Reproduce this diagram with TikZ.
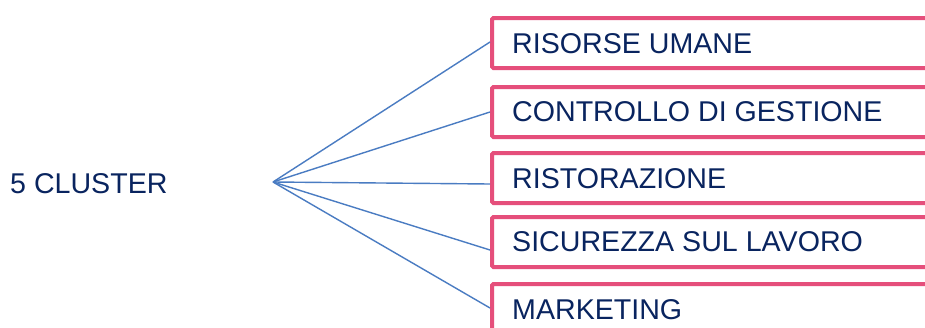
\documentclass[tikz,border=0pt]{standalone}
\usepackage{fontspec}
\setmainfont{Liberation Sans}
\definecolor{pinkb}{HTML}{E54F7B}
\definecolor{navy}{HTML}{09245F}
\definecolor{linkblue}{HTML}{4A7CC2}
\begin{document}
\begin{tikzpicture}[x=1pt,y=-1pt,
  box/.style={draw=pinkb,line width=4pt,rounded corners=1.5pt,rectangle,anchor=north west,
    minimum width=470pt,minimum height=50pt,inner sep=0pt},
  lbl/.style={anchor=base west,inner sep=0pt,text=navy,font=\fontsize{28.6}{30}\selectfont},
  link/.style={draw=linkblue,line width=1.4pt}]
\clip (0,0) rectangle (925,327);
\fill[white] (0,0) rectangle (925,327);
\node[lbl] (root) at (10,193) {5 CLUSTER};
\coordinate (hub) at (273,182);
\node[box] (b1) at (490,16) {};
\node[box] (b2) at (490,85) {};
\node[box] (b3) at (490,151) {};
\node[box] (b4) at (490,215) {};
\node[box] (b5) at (490,282) {};
\node[lbl] (t1) at (512,53) {RISORSE UMANE};
\node[lbl] (t2) at (512,121) {CONTROLLO DI GESTIONE};
\node[lbl] (t3) at (512,188) {RISTORAZIONE};
\node[lbl] (t4) at (512,251) {SICUREZZA SUL LAVORO};
\node[lbl] (t5) at (512,319) {MARKETING};
\draw[link] (hub) -- ([yshift=1pt]b1.west);
\draw[link] (hub) -- (b2.west);
\draw[link] (hub) -- ([yshift=-6pt]b3.west);
\draw[link] (hub) -- ([yshift=-8pt]b4.west);
\draw[link] (hub) -- ([yshift=1pt]b5.west);
\end{tikzpicture}
\end{document}
